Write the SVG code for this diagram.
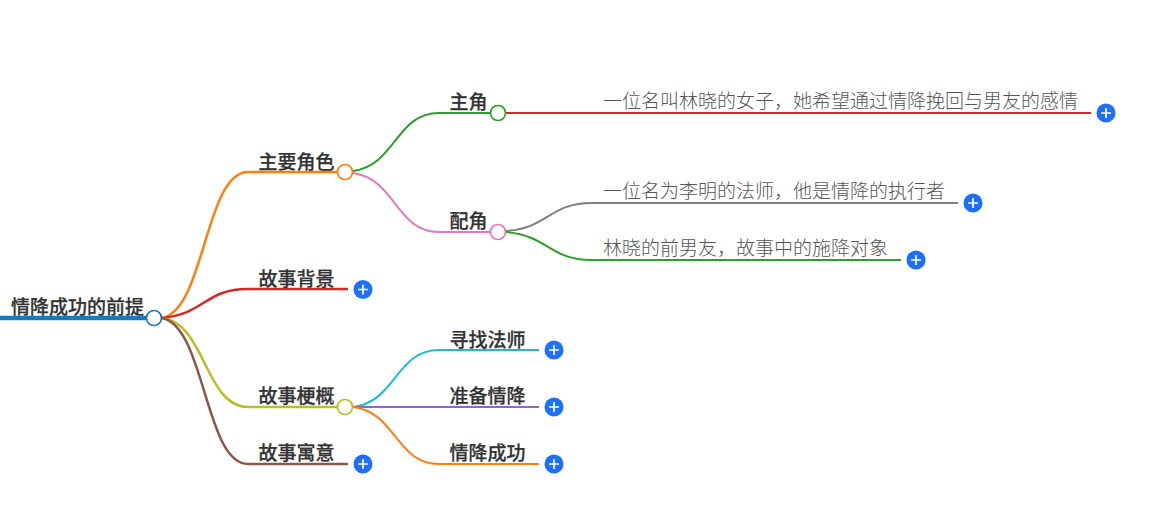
<svg xmlns="http://www.w3.org/2000/svg" width="1158" height="509" viewBox="0 0 1158 509">
<style>
text{font-family:"Noto Sans CJK SC","Noto Sans",sans-serif;fill:#333}
.b{font-size:19px;font-weight:500;stroke:#333;stroke-width:.25}
.l{font-size:19px;font-weight:200;fill:#555}
.c{fill:none;stroke-width:2}
.t{stroke-width:2.500}
.n{fill:#fff;stroke-width:1.700}
.p{stroke:#fff;stroke-width:1.700;fill:none}
.pc{fill:#1f6fff}
</style>
<defs>
<g id="plus"><circle class="pc" r="9.500"/><path class="p" d="M-5 0H5M0-5V5"/></g>
</defs>
<rect width="1158" height="509" fill="#fff"/>
<g id="connectors">
<path d="M0 318H154" fill="none" stroke="#1f77b4" stroke-width="4.500"/>
<path class="c t" stroke="#ff7f0e" d="M162 318C205 310 205 172 248 172H345"/>
<path class="c t" stroke="#d62728" d="M162 318C205 314 205 289 248 289H348"/>
<path class="c t" stroke="#bcbd22" d="M162 318C205 322 205 407 248 407H345"/>
<path class="c t" stroke="#8c564b" d="M162 318C205 326 205 464 248 464H348"/>
<path class="c" stroke="#2ca02c" d="M353 171C396 165 396 113 439 113H498"/>
<path class="c" stroke="#e377c2" d="M353 173C396 179 396 232 439 232H498"/>
<path class="c" stroke="#d62728" d="M506 113H1091"/>
<path class="c" stroke="#7f7f7f" d="M506 231C549 228 549 203 592 203H958"/>
<path class="c" stroke="#2ca02c" d="M506 232C549 236 549 260 592 260H901"/>
<path class="c" stroke="#17becf" d="M353 407C396 402 396 350 439 350H539"/>
<path class="c" stroke="#9467bd" d="M353 407H539"/>
<path class="c" stroke="#ff7f0e" d="M353 407C396 412 396 464 439 464H539"/>
</g>
<g id="root"><text class="b" x="11" y="313.500">情降成功的前提</text><circle class="n" cx="154" cy="318" r="7.500" stroke="#1f77b4"/></g>
<g id="n-zyjs"><text class="b" x="258.500" y="168.500">主要角色</text><circle class="n" cx="345" cy="172" r="7.500" stroke="#ff7f0e"/></g>
<g id="n-gsbj"><text class="b" x="258.500" y="285.500">故事背景</text><use href="#plus" x="363" y="289.500"/></g>
<g id="n-gsgg"><text class="b" x="258.500" y="402.500">故事梗概</text><circle class="n" cx="345" cy="407" r="7.500" stroke="#bcbd22"/></g>
<g id="n-gsyy"><text class="b" x="258.500" y="459.500">故事寓意</text><use href="#plus" x="363" y="464"/></g>
<g id="n-zj"><text class="b" x="449.500" y="108.500">主角</text><circle class="n" cx="498" cy="113" r="7.500" stroke="#2ca02c"/></g>
<g id="n-pj"><text class="b" x="449.500" y="227.500">配角</text><circle class="n" cx="498" cy="232" r="7.500" stroke="#e377c2"/></g>
<g id="n-lx"><text class="l" x="603" y="107.500">一位名叫林晓的女子，她希望通过情降挽回与男友的感情</text><use href="#plus" x="1106" y="113"/></g>
<g id="n-lm"><text class="l" x="603" y="198">一位名为李明的法师，他是情降的执行者</text><use href="#plus" x="973" y="203"/></g>
<g id="n-qny"><text class="l" x="603" y="255">林晓的前男友，故事中的施降对象</text><use href="#plus" x="916" y="260"/></g>
<g id="n-xz"><text class="b" x="449.500" y="346.500">寻找法师</text><use href="#plus" x="554" y="350"/></g>
<g id="n-zb"><text class="b" x="449.500" y="402.500">准备情降</text><use href="#plus" x="554" y="407"/></g>
<g id="n-cg"><text class="b" x="449.500" y="459.500">情降成功</text><use href="#plus" x="554" y="464"/></g>
</svg>
